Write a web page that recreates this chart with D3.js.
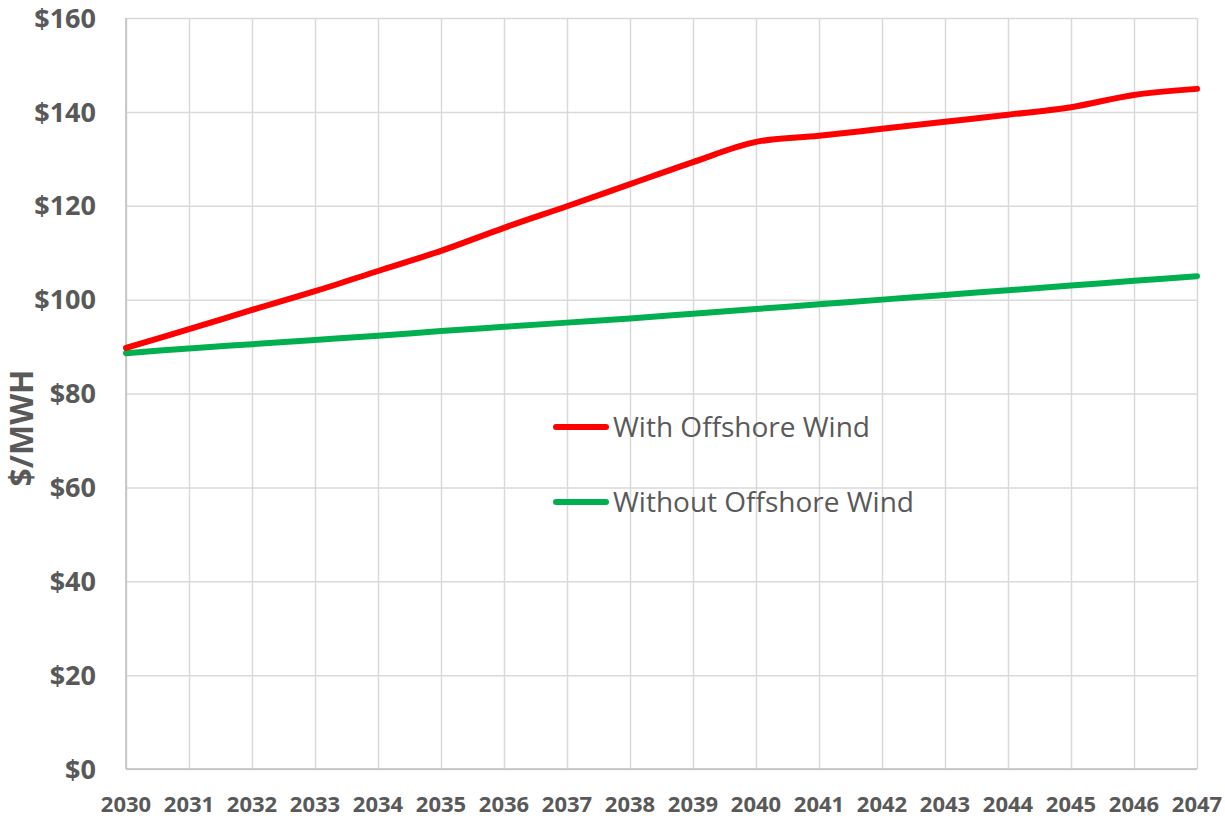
<!DOCTYPE html>
<html lang="en">
<head>
    <meta charset="UTF-8">
    <title>$/MWH With and Without Offshore Wind</title>
    <script type="text/javascript" src="https://d3js.org/d3.v7.min.js"></script>
    <style>
        body { margin: 0; background: #fff; }
        text { font-family: "Open Sans", "DejaVu Sans", sans-serif; fill: #595959; }
    </style>
</head>
<body>
    <svg class="canvas"></svg>
    <script type="text/javascript">
        var svg_width = 1225, svg_height = 818;

        // data
        var years = [2030, 2031, 2032, 2033, 2034, 2035, 2036, 2037, 2038,
                     2039, 2040, 2041, 2042, 2043, 2044, 2045, 2046, 2047];
        var withWind = [89.7, 93.7, 97.8, 101.8, 106.1, 110.4, 115.3, 119.9, 124.6,
                        129.3, 133.6, 134.9, 136.4, 137.9, 139.4, 141.0, 143.6, 144.9];
        var withoutWind = [88.6, 89.6, 90.5, 91.4, 92.3, 93.3, 94.2, 95.1, 96.0,
                           97.0, 98.0, 99.0, 100.0, 101.0, 102.0, 103.0, 104.0, 105.0];
        var yTicks = [0, 20, 40, 60, 80, 100, 120, 140, 160];
        var seriesNames = ['With Offshore Wind', 'Without Offshore Wind'];
        var seriesColors = ['#ff0000', '#00b050'];

        var plotLeft = 126, plotRight = 1197, plotTop = 18, plotBottom = 769;

        var xScale = d3.scaleLinear().domain([2030, 2047]).range([plotLeft, plotRight]),
            yScale = d3.scaleLinear().domain([0, 160]).range([plotBottom, plotTop]);

        var svg = d3.select('svg').attr('width', svg_width).attr('height', svg_height);

        // gridlines
        svg.append('g')
            .attr('transform', 'translate(0,' + plotBottom + ')')
            .call(d3.axisBottom(xScale).tickValues(years).tickSize(-(plotBottom - plotTop)).tickFormat(''))
            .call(function(g) {
                g.select('.domain').remove();
                g.selectAll('line').attr('stroke', '#d9d9d9').attr('stroke-width', 1.5);
            });

        svg.append('g')
            .attr('transform', 'translate(' + plotLeft + ',0)')
            .call(d3.axisLeft(yScale).tickValues(yTicks).tickSize(-(plotRight - plotLeft)).tickFormat(''))
            .call(function(g) {
                g.select('.domain').remove();
                g.selectAll('line').attr('stroke', '#d9d9d9').attr('stroke-width', 1.5);
            });

        // axis lines
        svg.append('line').attr('x1', plotLeft).attr('x2', plotLeft).attr('y1', plotTop).attr('y2', plotBottom)
            .attr('stroke', '#bfbfbf').attr('stroke-width', 1.5);
        svg.append('line').attr('x1', plotLeft).attr('x2', plotRight).attr('y1', plotBottom).attr('y2', plotBottom)
            .attr('stroke', '#bfbfbf').attr('stroke-width', 1.5);

        // tick labels
        svg.selectAll('.ylab')
            .data(yTicks)
            .enter()
            .append('text')
            .attr('class', 'ylab')
            .attr('x', 96)
            .attr('y', function(d) { return yScale(d); })
            .attr('dy', '0.36em')
            .attr('text-anchor', 'end')
            .style('font-size', '27px')
            .style('font-weight', 'bold')
            .text(function(d) { return '$' + d; });

        svg.selectAll('.xlab')
            .data(years)
            .enter()
            .append('text')
            .attr('class', 'xlab')
            .attr('x', function(d) { return xScale(d); })
            .attr('y', 812)
            .attr('text-anchor', 'middle')
            .style('font-size', '22px')
            .style('font-weight', 'bold')
            .text(function(d) { return d; });

        // y axis title
        svg.append('text')
            .attr('transform', 'translate(33,428) rotate(-90)')
            .attr('text-anchor', 'middle')
            .style('font-size', '32px')
            .style('font-weight', 'bold')
            .text('$/MWH');

        // lines
        var line = d3.line()
            .x(function(d, i) { return xScale(years[i]); })
            .y(function(d) { return yScale(d); })
            .curve(d3.curveCatmullRom.alpha(0.5));

        [withoutWind, withWind].forEach(function(vals, k) {
            svg.append('path')
                .datum(vals)
                .attr('d', line)
                .attr('fill', 'none')
                .attr('stroke', seriesColors[1 - k])
                .attr('stroke-width', 6)
                .attr('stroke-linecap', 'round');
        });

        // legend
        var legend = svg.append('g');
        seriesNames.forEach(function(name, i) {
            var ly = 427 + i * 75;
            legend.append('line')
                .attr('x1', 556).attr('x2', 606).attr('y1', ly).attr('y2', ly)
                .attr('stroke', seriesColors[i]).attr('stroke-width', 6)
                .attr('stroke-linecap', 'round');
            legend.append('text')
                .attr('x', 613).attr('y', ly).attr('dy', '0.36em')
                .style('font-size', '28px')
                .text(name);
        });
    </script>
</body>
</html>
